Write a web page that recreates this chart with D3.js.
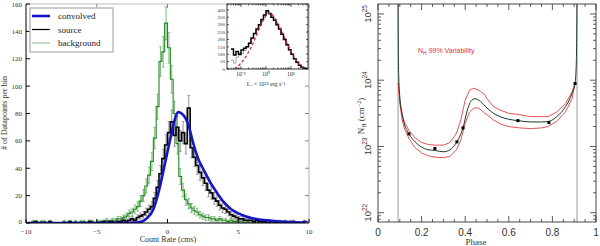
<!DOCTYPE html>
<html><head><meta charset="utf-8">
<script src="https://cdn.jsdelivr.net/npm/d3@7"></script>
<style>body{margin:0;background:#fff}svg{display:block}</style>
</head><body><svg id="c" width="600" height="246"></svg>
<script>
// ---------- LEFT PANEL DATA ----------
const histRange = [-10, 10];
const histBinWidth = 0.2;
const backgroundCounts = [0,0,1,0,0,1,1,0,0,0, 0,0,0,1,0,0,0,1,0,1, 1,0,1,1,0,1,1,1,2,1,
  2,2,3,3,4,5,7,8,10,12, 16,20,27,35,45,62,85,118,125,146, 128,105,80,58,34,24,17,14,11,9,
  8,6,5,4,4,3,3,2,3,2, 2,1,2,1,1,1,1,0,1,0, 0,1,0,0,1,0,0,0,1,0, 0,0,0,1,0,0,0,0,0,0];
const sourceCounts = [0,0,0,1,0,0,0,0,1,0, 0,0,0,0,0,1,0,0,0,0, 0,0,1,0,0,0,0,1,0,1,
  1,0,1,1,2,1,2,3,2,4, 5,6,8,10,12,18,26,36,47,57, 66,74,64,70,60,66,58,84,55,48,
  42,37,33,29,24,22,18,16,13,11, 10,8,6,5,4,3,3,2,2,2, 1,2,1,1,1,0,1,1,0,1, 0,1,0,0,1,0,0,0,1,0];
const convolvedRate = [-10,-6,-3,-2.5,-2,-1.5,-1,-0.75,-0.5,-0.25,0,0.25,0.5,0.75,1,1.25,1.5,1.75,2,2.25,2.5,2.75,3,3.5,4,4.5,5,5.5,6,6.5,7,7.5,8,9,10];
const convolvedCounts = [0,0,0,0.2,0.6,3,10,18,28,40,52,64,75,81,80,77,71,61,52,45,40,35,30,22,15,10,7,5,3.5,2.5,2,1.5,1,0.5,0.3];
const xTicksL = [-10,-5,0,5,10];
const xTickLabelsL = ["\u221210","\u22125","0","5","10"];
const yTicksL = [0,20,40,60,80,100,120,140,160];
const legendLabels = ["convolved","source","background"];

// ---------- INSET DATA ----------
const insetLogStart = -1.4, insetLogStep = 0.1;
const insetSource = [135,95,118,100,128,140,150,175,210,240,270,300,335,365,395,375,350,330,300,270,235,200,165,130,100,70,45,25,12,5,0];
const insetGray   = [ 60,40, 80, 90,105,125,150,175,205,240,268,300,332,362,390,372,348,328,298,268,233,198,163,128, 98,68,43,23,10,4,0];
const insetModelLogL = [-1.25,-1.0,-0.8,-0.6,-0.4,-0.2,0.0,0.1,0.2,0.4,0.6,0.8,1.0,1.2,1.4,1.6,1.7];
const insetModelN    = [0,40,85,145,220,300,360,380,375,330,265,190,120,60,20,3,0];
const insetYTicks = [0,50,100,150,200,250,300,350,400];
const insetXTicks = [0.1,1,10];
const insetXTickLabels = ["10\u207B\u00B9","10\u2070","10\u00B9"];

// ---------- RIGHT PANEL DATA ----------
const phaseCenter = [0.092,0.094,0.10,0.11,0.12,0.142,0.17,0.20,0.23,0.261,0.30,0.33,0.362,0.39,0.41,0.43,0.445,0.47,0.50,0.53,0.56,0.60,0.642,0.70,0.75,0.784,0.82,0.86,0.89,0.904,0.91,0.913];
const logNhCenter = [25.3,24.2,23.75,23.5,23.35,23.19,23.07,22.99,22.95,22.94,22.92,22.95,23.07,23.28,23.55,23.70,23.72,23.68,23.58,23.50,23.45,23.41,23.39,23.37,23.37,23.38,23.45,23.6,23.8,23.95,24.3,25.3];
const phaseEnv = [0.093,0.10,0.11,0.12,0.142,0.17,0.20,0.23,0.26,0.30,0.33,0.36,0.38,0.40,0.42,0.44,0.46,0.47,0.49,0.50,0.53,0.56,0.60,0.65,0.70,0.75,0.78,0.82,0.86,0.89,0.904];
const logNhUpper = [23.96,23.70,23.50,23.38,23.24,23.13,23.06,23.03,23.02,23.02,23.06,23.20,23.40,23.70,23.85,23.88,23.85,23.83,23.78,23.72,23.60,23.55,23.50,23.48,23.45,23.45,23.45,23.52,23.65,23.82,23.96];
const logNhLower = [23.96,23.65,23.42,23.28,23.12,22.98,22.90,22.86,22.84,22.83,22.85,22.95,23.10,23.35,23.52,23.58,23.58,23.56,23.50,23.48,23.40,23.34,23.30,23.28,23.27,23.28,23.30,23.38,23.52,23.72,23.96];
const dotPhase = [0.142,0.261,0.362,0.39,0.642,0.784,0.904];
const dotLogNh = [23.19,22.97,23.07,23.28,23.39,23.36,23.95];
const eclipsePhase = [0.092,0.913];
const xTicksR = [0,0.2,0.4,0.6,0.8,1];
const xTickLabelsR = ["0","0.2","0.4","0.6","0.8","1"];
const yDecadesR = [22,23,24,25];

const svg = d3.select("#c");
svg.append("rect").attr("width",600).attr("height",246).attr("fill","#fff");

// ================= LEFT PANEL =================
const xL = d3.scaleLinear().domain(histRange).range([26,309]);
const yL = d3.scaleLinear().domain([0,160]).range([223,4]);
const gL = svg.append("g");
gL.append("defs").append("clipPath").attr("id","clipL").append("rect")
  .attr("x",26).attr("y",4).attr("width",283).attr("height",219);

function histPoints(counts){
  const pts = counts.map((v,i)=>[histRange[0]+i*histBinWidth, v]);
  pts.push([histRange[1], counts[counts.length-1]]);
  return pts;
}
const stepLine = d3.line().x(d=>xL(d[0])).y(d=>yL(d[1])).curve(d3.curveStepAfter);
const plotL = gL.append("g").attr("clip-path","url(#clipL)");

function errorBars(counts, color){
  counts.forEach((v,i)=>{
    if(v<=0) return;
    const c = histRange[0]+(i+0.5)*histBinWidth, e = Math.sqrt(v);
    plotL.append("line").attr("x1",xL(c)).attr("x2",xL(c)).attr("y1",yL(v-e)).attr("y2",yL(v+e))
      .attr("stroke",color).attr("stroke-width",0.8);
    [v-e,v+e].forEach(t=>plotL.append("line").attr("x1",xL(c)-1.5).attr("x2",xL(c)+1.5)
      .attr("y1",yL(t)).attr("y2",yL(t)).attr("stroke",color).attr("stroke-width",0.6));
  });
}
errorBars(backgroundCounts,"#5aa55a");
plotL.append("path").attr("d",stepLine(histPoints(backgroundCounts))).attr("fill","none")
  .attr("stroke","#1e8a1e").attr("stroke-width",1.1);
errorBars(sourceCounts,"#777");
plotL.append("path").attr("d",stepLine(histPoints(sourceCounts))).attr("fill","none")
  .attr("stroke","#000").attr("stroke-width",1.6);
plotL.append("path").datum(convolvedRate.map((x,i)=>[x,convolvedCounts[i]]))
  .attr("d",d3.line().x(d=>xL(d[0])).y(d=>yL(d[1])).curve(d3.curveMonotoneX))
  .attr("fill","none").attr("stroke","#1414c8").attr("stroke-width",2.6);

gL.append("line").attr("x1",26).attr("x2",309).attr("y1",4).attr("y2",4).attr("stroke","#bbb").attr("stroke-width",1.2);
gL.append("line").attr("x1",309).attr("x2",309).attr("y1",4).attr("y2",223).attr("stroke","#bbb").attr("stroke-width",1.2);
gL.append("line").attr("x1",26).attr("x2",26).attr("y1",4).attr("y2",223).attr("stroke","#000").attr("stroke-width",1);
gL.append("line").attr("x1",26).attr("x2",309).attr("y1",223).attr("y2",223).attr("stroke","#000").attr("stroke-width",1);

const fontL = "'Liberation Serif', serif";
xTicksL.forEach((t,i)=>{
  gL.append("line").attr("x1",xL(t)).attr("x2",xL(t)).attr("y1",223).attr("y2",219).attr("stroke","#000");
  gL.append("line").attr("x1",xL(t)).attr("x2",xL(t)).attr("y1",4).attr("y2",8).attr("stroke","#888");
  gL.append("text").attr("x",xL(t)).attr("y",233.5).attr("text-anchor","middle")
    .attr("font-family",fontL).attr("font-size",7).attr("fill","#333").text(xTickLabelsL[i]);
});
yTicksL.forEach(t=>{
  gL.append("line").attr("x1",26).attr("x2",30).attr("y1",yL(t)).attr("y2",yL(t)).attr("stroke","#000");
  gL.append("line").attr("x1",309).attr("x2",305).attr("y1",yL(t)).attr("y2",yL(t)).attr("stroke","#888");
  gL.append("text").attr("x",22).attr("y",yL(t)+(t===0?1:2.5)).attr("text-anchor","end")
    .attr("font-family",fontL).attr("font-size",7).attr("fill","#333").text(t);
});
gL.append("text").attr("x",168).attr("y",242).attr("text-anchor","middle")
  .attr("font-family",fontL).attr("font-size",8).attr("fill","#333").text("Count Rate (cms)");
gL.append("text").attr("transform","translate(7,113) rotate(-90)").attr("text-anchor","middle")
  .attr("font-family",fontL).attr("font-size",8).attr("fill","#333").text("# of Datapoints per bin");

const lg = gL.append("g");
lg.append("rect").attr("x",30).attr("y",8).attr("width",83).attr("height",44).attr("fill","#fff")
  .attr("stroke","#bbb").attr("stroke-width",1.5);
const legStyles = [["#1414c8",2.6],["#000",1.2],["#c9d9c9",2]];
legendLabels.forEach((l,i)=>{
  const y = 16+i*13.5;
  lg.append("line").attr("x1",32).attr("x2",50).attr("y1",y).attr("y2",y)
    .attr("stroke",legStyles[i][0]).attr("stroke-width",legStyles[i][1]);
  lg.append("text").attr("x",58).attr("y",y+3).attr("font-family",fontL).attr("font-size",9)
    .attr("fill","#222").text(l);
});

// ================= INSET =================
const xI = d3.scaleLog().domain([Math.pow(10,-1.56),Math.pow(10,1.68)]).range([227,308]);
const yI = d3.scaleLinear().domain([0,440]).range([69,4]);
const gI = svg.append("g");
gI.append("rect").attr("x",227).attr("y",4).attr("width",81).attr("height",65).attr("fill","#fff");
gI.append("defs").append("clipPath").attr("id","clipI").append("rect")
  .attr("x",227).attr("y",4).attr("width",81).attr("height",65);
const plotI = gI.append("g").attr("clip-path","url(#clipI)");
function insetPts(vals){
  const p = vals.map((v,i)=>[Math.pow(10,insetLogStart+i*insetLogStep),v]);
  p.push([Math.pow(10,insetLogStart+vals.length*insetLogStep),0]);
  return p;
}
const stepI = d3.line().x(d=>xI(d[0])).y(d=>yI(d[1])).curve(d3.curveStepAfter);
plotI.append("path").attr("d",stepI(insetPts(insetGray))).attr("fill","none").attr("stroke","#999").attr("stroke-width",0.9);
plotI.append("path").attr("d",stepI(insetPts(insetSource))).attr("fill","none").attr("stroke","#000").attr("stroke-width",1.5);
plotI.append("path").datum(insetModelLogL.map((l,i)=>[Math.pow(10,l),insetModelN[i]]))
  .attr("d",d3.line().x(d=>xI(d[0])).y(d=>yI(d[1])).curve(d3.curveMonotoneX))
  .attr("fill","none").attr("stroke","#d0203a").attr("stroke-width",1.2).attr("stroke-dasharray","3,2");
gI.append("rect").attr("x",227).attr("y",4).attr("width",81).attr("height",65).attr("fill","none").attr("stroke","#000").attr("stroke-width",0.8);
insetYTicks.forEach(t=>{
  gI.append("line").attr("x1",227).attr("x2",229).attr("y1",yI(t)).attr("y2",yI(t)).attr("stroke","#000").attr("stroke-width",0.6);
  gI.append("line").attr("x1",308).attr("x2",306).attr("y1",yI(t)).attr("y2",yI(t)).attr("stroke","#000").attr("stroke-width",0.6);
  gI.append("text").attr("x",225).attr("y",yI(t)+1.8).attr("text-anchor","end").attr("font-family",fontL)
    .attr("font-size",5).attr("fill","#333").text(t);
});
const minorI = [];
for(let d=-2; d<=1; d++) for(let m=1;m<10;m++){const v=m*Math.pow(10,d); if(v>=xI.domain()[0]&&v<=xI.domain()[1]) minorI.push([v,m===1]);}
minorI.forEach(([v,maj])=>{
  const L = maj?3:1.5;
  gI.append("line").attr("x1",xI(v)).attr("x2",xI(v)).attr("y1",69).attr("y2",69-L).attr("stroke","#000").attr("stroke-width",0.6);
  gI.append("line").attr("x1",xI(v)).attr("x2",xI(v)).attr("y1",4).attr("y2",4+L).attr("stroke","#000").attr("stroke-width",0.6);
});
insetXTicks.forEach((t,i)=>gI.append("text").attr("x",xI(t)).attr("y",76).attr("text-anchor","middle")
  .attr("font-family",fontL).attr("font-size",6).attr("fill","#333").text(insetXTickLabels[i]));
gI.append("text").attr("x",266).attr("y",86).attr("text-anchor","middle").attr("font-family",fontL)
  .attr("font-size",6).attr("fill","#333").text("L\u2093 \u00D7 10\u00B3\u2074 erg s\u207B\u00B9");

// ================= RIGHT PANEL =================
const xR = d3.scaleLinear().domain([0,1]).range([378,596]);
const yR = d3.scaleLog().domain([Math.pow(10,21.86),Math.pow(10,25.15)]).range([222,4]);
const gR = svg.append("g");
gR.append("defs").append("clipPath").attr("id","clipR").append("rect")
  .attr("x",378).attr("y",4).attr("width",218).attr("height",218);
const plotR = gR.append("g").attr("clip-path","url(#clipR)");
eclipsePhase.forEach(p=>plotR.append("line").attr("x1",xR(p)).attr("x2",xR(p)).attr("y1",4).attr("y2",222)
  .attr("stroke","#999").attr("stroke-width",1));
const lineR = d3.line().x(d=>xR(d[0])).y(d=>yR(Math.pow(10,d[1])));
plotR.append("path").attr("d",lineR(phaseEnv.map((p,i)=>[p,logNhUpper[i]]))).attr("fill","none").attr("stroke","#e04040").attr("stroke-width",0.9);
plotR.append("path").attr("d",lineR(phaseEnv.map((p,i)=>[p,logNhLower[i]]))).attr("fill","none").attr("stroke","#e04040").attr("stroke-width",0.9);
plotR.append("path").attr("d",lineR.curve(d3.curveMonotoneX)(phaseCenter.map((p,i)=>[p,logNhCenter[i]]))).attr("fill","none").attr("stroke","#1a3a2a").attr("stroke-width",1);
dotPhase.forEach((p,i)=>plotR.append("rect").attr("x",xR(p)-1.5).attr("y",yR(Math.pow(10,dotLogNh[i]))-1.5)
  .attr("width",3).attr("height",3).attr("fill","#000"));
gR.append("rect").attr("x",378).attr("y",4).attr("width",218).attr("height",218).attr("fill","none").attr("stroke","#333").attr("stroke-width",0.9);

for(let k=0;k<=20;k++){
  const v = k*0.05, maj = k%4===0, L = maj?6:3;
  gR.append("line").attr("x1",xR(v)).attr("x2",xR(v)).attr("y1",222).attr("y2",222-L).attr("stroke","#333").attr("stroke-width",0.8);
  gR.append("line").attr("x1",xR(v)).attr("x2",xR(v)).attr("y1",4).attr("y2",4+L).attr("stroke","#333").attr("stroke-width",0.8);
}
const fontR = "'Liberation Sans', sans-serif";
xTicksR.forEach((t,i)=>gR.append("text").attr("x",xR(t)).attr("y",236).attr("text-anchor","middle")
  .attr("font-family",fontR).attr("font-size",10).attr("fill","#333").text(xTickLabelsR[i]));
for(let d=21; d<=25; d++) for(let m=1;m<10;m++){
  const v = m*Math.pow(10,d);
  if(v<yR.domain()[0]||v>yR.domain()[1]) continue;
  const L = m===1?6:3;
  gR.append("line").attr("x1",378).attr("x2",378+L).attr("y1",yR(v)).attr("y2",yR(v)).attr("stroke","#333").attr("stroke-width",0.8);
  gR.append("line").attr("x1",596).attr("x2",596-L).attr("y1",yR(v)).attr("y2",yR(v)).attr("stroke","#333").attr("stroke-width",0.8);
}
yDecadesR.forEach(d=>{
  const t = gR.append("text").attr("transform",`translate(371,${yR(Math.pow(10,d))}) rotate(-90)`)
    .attr("text-anchor","middle").attr("font-family",fontR).attr("font-size",9.5).attr("fill","#333");
  t.append("tspan").text("10");
  t.append("tspan").attr("dy",-4).attr("font-size",6.5).text(d);
});
const yl = gR.append("text").attr("transform","translate(364,116) rotate(-90)").attr("text-anchor","middle")
  .attr("font-family",fontL).attr("font-size",9).attr("fill","#333");
yl.append("tspan").text("N");
yl.append("tspan").attr("dy",2).attr("font-size",6).text("H");
yl.append("tspan").attr("dy",-2).text(" (cm");
yl.append("tspan").attr("dy",-3.5).attr("font-size",6).text("\u22122");
yl.append("tspan").attr("dy",3.5).text(")");
gR.append("text").attr("x",476).attr("y",245).attr("text-anchor","middle").attr("font-family",fontL)
  .attr("font-size",9).attr("fill","#333").text("Phase");
const rt = gR.append("text").attr("x",418).attr("y",53).attr("font-family",fontR).attr("font-size",7).attr("fill","#e03030");
rt.append("tspan").text("N");
rt.append("tspan").attr("dy",1.5).attr("font-size",5).text("H");
rt.append("tspan").attr("dy",-1.5).text(" 99% Variability");
</script></body></html>
